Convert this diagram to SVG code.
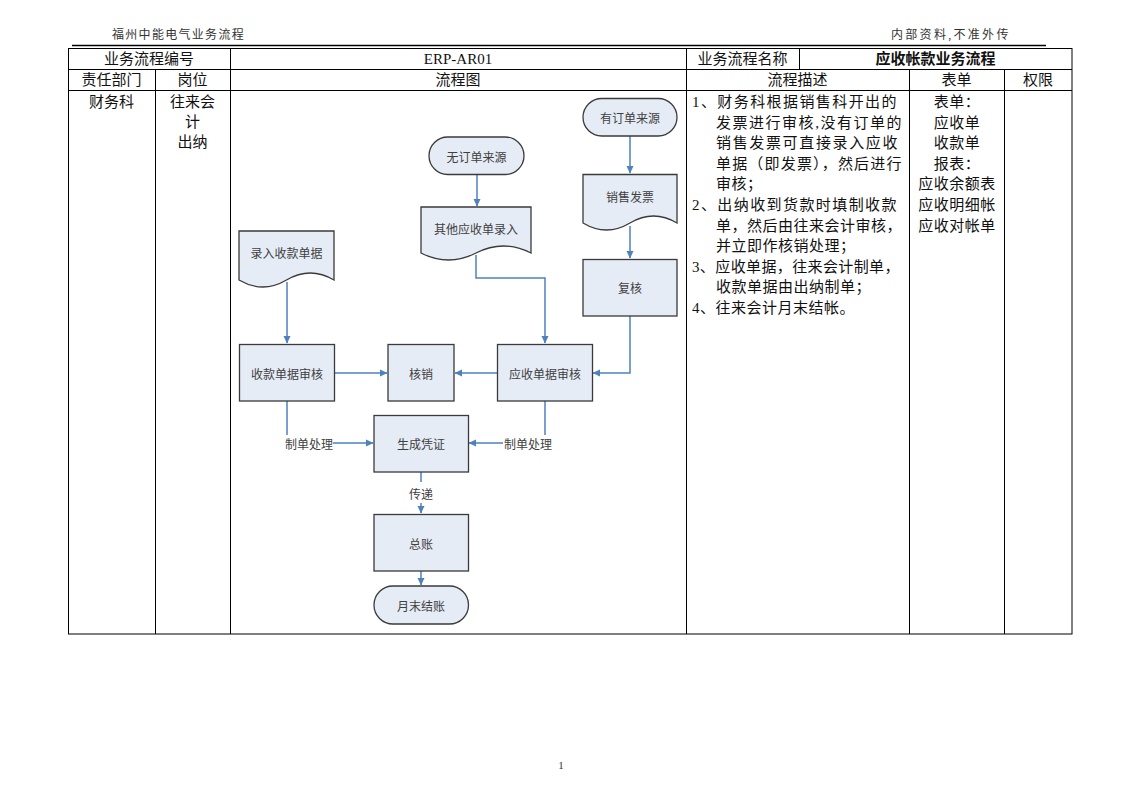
<svg xmlns="http://www.w3.org/2000/svg" width="1122" height="793" viewBox="0 0 1122 793">
<defs>
<marker id="arr" markerWidth="8" markerHeight="8" refX="7" refY="4" orient="auto" markerUnits="userSpaceOnUse">
<path d="M0,0.5 L7.5,4 L0,7.5 Z" fill="#4f81bd"/>
</marker>
<style>
.tb{fill:none;stroke:#000;stroke-width:1}
.t{font-family:"Liberation Serif","Noto Sans CJK SC",serif;font-size:15px;fill:#111}
.tc{text-anchor:middle}
.hd{font-family:"Liberation Serif","Noto Sans CJK SC",serif;font-size:12px;fill:#333}
.sh{fill:#e6ecf6;stroke:#3a3a3a;stroke-width:1.3}
.st{font-family:"Noto Sans CJK SC",sans-serif;font-size:12px;fill:#404040;text-anchor:middle;dominant-baseline:central}
.cn{fill:none;stroke:#4f81bd;stroke-width:1.5}
.lb{font-family:"Noto Sans CJK SC",sans-serif;font-size:12px;fill:#404040;dominant-baseline:central}
</style>
</defs>
<rect width="1122" height="793" fill="#fff"/>

<!-- page header -->
<text class="hd" x="112" y="39" style="letter-spacing:1.3px">福州中能电气业务流程</text>
<text class="hd" x="891" y="39" style="letter-spacing:2.3px">内部资料,不准外传</text>
<line x1="72" y1="45.5" x2="1046" y2="45.5" stroke="#000" stroke-width="1.5"/>

<!-- table -->
<g id="table">
<rect class="tb" x="68.5" y="48.5" width="1003.5" height="585.5"/>
<line class="tb" x1="68.5" y1="69.5" x2="1072" y2="69.5"/>
<line class="tb" x1="68.5" y1="90.5" x2="1072" y2="90.5"/>
<line class="tb" x1="155.5" y1="69.5" x2="155.5" y2="634"/>
<line class="tb" x1="230.5" y1="48.5" x2="230.5" y2="634"/>
<line class="tb" x1="686.5" y1="48.5" x2="686.5" y2="634"/>
<line class="tb" x1="799.5" y1="48.5" x2="799.5" y2="69.5"/>
<line class="tb" x1="909.5" y1="69.5" x2="909.5" y2="634"/>
<line class="tb" x1="1004.5" y1="69.5" x2="1004.5" y2="634"/>
<text class="t tc" x="149" y="64">业务流程编号</text>
<text class="t tc" x="458" y="64">ERP-AR01</text>
<text class="t tc" x="742.5" y="64">业务流程名称</text>
<text class="t tc" x="935.5" y="64" font-weight="bold" font-size="16">应收帐款业务流程</text>
<text class="t tc" x="111.5" y="85">责任部门</text>
<text class="t tc" x="192.5" y="85">岗位</text>
<text class="t tc" x="458" y="85">流程图</text>
<text class="t tc" x="797.5" y="85">流程描述</text>
<text class="t tc" x="956.5" y="85">表单</text>
<text class="t tc" x="1038" y="85">权限</text>
<text class="t tc" x="111.5" y="107">财务科</text>
<text class="t tc" x="192.5" y="107">往来会</text>
<text class="t tc" x="192.5" y="127">计</text>
<text class="t tc" x="192.5" y="147">出纳</text>
<g class="t" style="letter-spacing:0.5px">
<text x="692" y="107" textLength="205" lengthAdjust="spacing">1、财务科根据销售科开出的</text>
<text x="716" y="127.6" textLength="186" lengthAdjust="spacing">发票进行审核,没有订单的</text>
<text x="716" y="148.2" textLength="182" lengthAdjust="spacing">销售发票可直接录入应收</text>
<text x="716" y="168.8" textLength="186" lengthAdjust="spacing">单据（即发票），然后进行</text>
<text x="716" y="189.4">审核；</text>
<text x="692" y="210" textLength="205" lengthAdjust="spacing">2、出纳收到货款时填制收款</text>
<text x="716" y="230.6" textLength="186" lengthAdjust="spacing">单，然后由往来会计审核，</text>
<text x="716" y="251.2">并立即作核销处理；</text>
<text x="692" y="271.8" textLength="208" lengthAdjust="spacing">3、应收单据，往来会计制单，</text>
<text x="716" y="292.4">收款单据由出纳制单；</text>
<text x="692" y="313">4、往来会计月末结帐。</text>
</g>
<g class="t tc" style="letter-spacing:0.5px">
<text x="957" y="107">表单：</text>
<text x="957" y="127.6">应收单</text>
<text x="957" y="148.2">收款单</text>
<text x="957" y="168.8">报表：</text>
<text x="957" y="189.4">应收余额表</text>
<text x="957" y="210">应收明细帐</text>
<text x="957" y="230.6">应收对帐单</text>
</g>
</g>

<!-- connectors -->
<g id="connectors">
<path class="cn" d="M630,136 V173" marker-end="url(#arr)"/>
<path class="cn" d="M630,226 V258" marker-end="url(#arr)"/>
<path class="cn" d="M630,316 V373 H593" marker-end="url(#arr)"/>
<path class="cn" d="M477,175 V206" marker-end="url(#arr)"/>
<path class="cn" d="M476,255 V278 H545 V343" marker-end="url(#arr)"/>
<path class="cn" d="M287,282 V343" marker-end="url(#arr)"/>
<path class="cn" d="M334,373 H387" marker-end="url(#arr)"/>
<path class="cn" d="M498,373 H455" marker-end="url(#arr)"/>
<path class="cn" d="M287,401 V435"/>
<path class="cn" d="M333,443 H373" marker-end="url(#arr)"/>
<path class="cn" d="M545,401 V435"/>
<path class="cn" d="M503,443 H469" marker-end="url(#arr)"/>
<path class="cn" d="M421,472 V482"/>
<path class="cn" d="M421,503 V513" marker-end="url(#arr)"/>
<path class="cn" d="M421,571 V585" marker-end="url(#arr)"/>
<text class="lb" x="285" y="443">制单处理</text>
<text class="lb" x="504" y="443">制单处理</text>
<text class="lb" x="409" y="493">传递</text>
</g>

<!-- nodes -->
<g id="n-youdingdan">
<rect class="sh" x="583" y="98.5" width="94" height="37.5" rx="18.75"/>
<text class="st" x="630" y="117.5">有订单来源</text>
</g>
<g id="n-wudingdan">
<rect class="sh" x="429" y="137" width="95" height="37.5" rx="18.75"/>
<text class="st" x="476.5" y="156">无订单来源</text>
</g>
<g id="n-xiaoshoufapiao">
<path class="sh" d="M583,174.5 H677 V223 Q653.5,209 630,223 T583,223 Z"/>
<text class="st" x="630" y="196">销售发票</text>
</g>
<g id="n-qitayingshou">
<path class="sh" d="M421,207 H531 V253 Q503.5,239 476,253 T421,253 Z"/>
<text class="st" x="476" y="228">其他应收单录入</text>
</g>
<g id="n-lurushoukuan">
<path class="sh" d="M239,231 H334 V280 Q310.25,266 286.5,280 T239,280 Z"/>
<text class="st" x="286.5" y="252.5">录入收款单据</text>
</g>
<g id="n-fuhe">
<rect class="sh" x="583" y="259.5" width="94" height="56.5"/>
<text class="st" x="630" y="287.5">复核</text>
</g>
<g id="n-shoukuanshenhe">
<rect class="sh" x="239.5" y="344.5" width="95" height="56.5"/>
<text class="st" x="287" y="373">收款单据审核</text>
</g>
<g id="n-hexiao">
<rect class="sh" x="388" y="344.5" width="66" height="56.5"/>
<text class="st" x="421" y="373">核销</text>
</g>
<g id="n-yingshoushenhe">
<rect class="sh" x="497.5" y="344.5" width="95" height="56.5"/>
<text class="st" x="545" y="373">应收单据审核</text>
</g>
<g id="n-shengchengpingzheng">
<rect class="sh" x="374" y="415.5" width="94.5" height="56.5"/>
<text class="st" x="421" y="443.5">生成凭证</text>
</g>
<g id="n-zongzhang">
<rect class="sh" x="374" y="514.5" width="94.5" height="56.5"/>
<text class="st" x="421" y="543">总账</text>
</g>
<g id="n-yuemojiezhang">
<rect class="sh" x="374" y="586" width="94.5" height="38" rx="19"/>
<text class="st" x="421" y="605">月末结账</text>
</g>

<text x="561" y="769" font-family="Liberation Serif, serif" font-size="11" fill="#333" text-anchor="middle">1</text>
</svg>
